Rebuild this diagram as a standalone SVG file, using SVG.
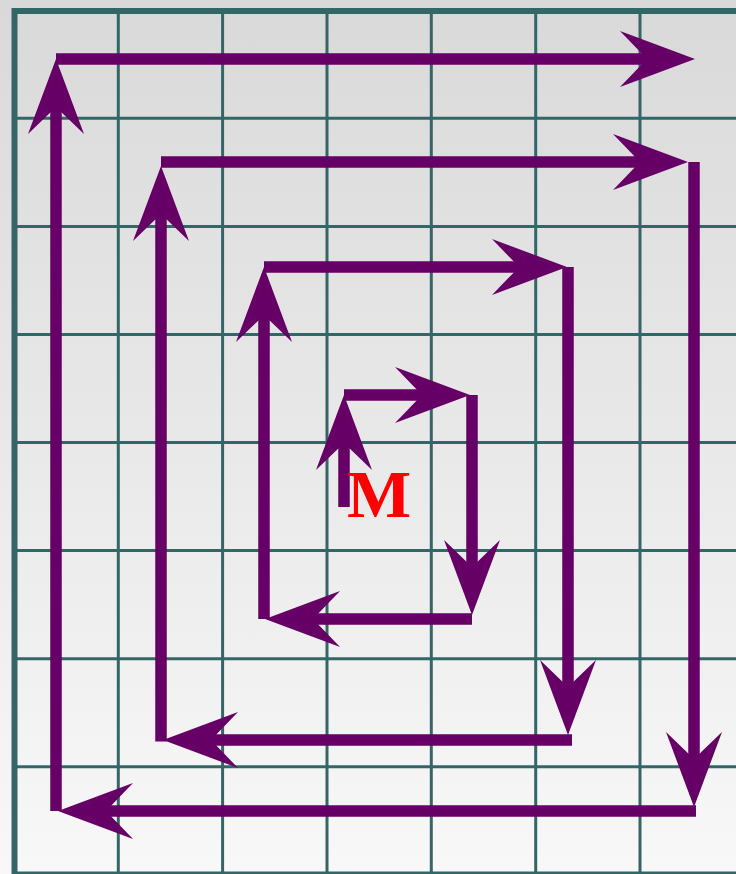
<svg xmlns="http://www.w3.org/2000/svg" width="736" height="874" viewBox="0 0 736 874">
  <defs>
    <linearGradient id="bg" x1="0" y1="0" x2="0" y2="1">
      <stop offset="0" stop-color="#d9d9d9"/>
      <stop offset="1" stop-color="#f8f8f8"/>
    </linearGradient>
    <marker id="ah" markerUnits="userSpaceOnUse" orient="auto" refX="0" refY="0" markerWidth="80" markerHeight="60" overflow="visible">
      <polygon points="48,0 -27,-28 0,0 -27,28" fill="#660066"/>
    </marker>
    <style>
      .grid line { stroke: #336666; stroke-width: 3; }
      .border { fill: none; stroke: #336666; stroke-width: 6; }
      .conn line { stroke: #660066; stroke-width: 11.5; stroke-linecap: butt; marker-end: url(#ah); }
      .lbl { font-family: "Liberation Serif", "Times New Roman", serif; font-weight: bold; font-size: 68px; fill: #ff0000; }
    </style>
  </defs>
  <rect x="0" y="0" width="736" height="874" fill="url(#bg)"/>
  <g id="grid" class="grid">
    <line x1="118.3" y1="11" x2="118.3" y2="874"/>
    <line x1="222.6" y1="11" x2="222.6" y2="874"/>
    <line x1="327" y1="11" x2="327" y2="874"/>
    <line x1="431.3" y1="11" x2="431.3" y2="874"/>
    <line x1="535.7" y1="11" x2="535.7" y2="874"/>
    <line x1="640" y1="11" x2="640" y2="874"/>
    <line x1="14" y1="118.3" x2="736" y2="118.3"/>
    <line x1="14" y1="226.4" x2="736" y2="226.4"/>
    <line x1="14" y1="334.5" x2="736" y2="334.5"/>
    <line x1="14" y1="442.6" x2="736" y2="442.6"/>
    <line x1="14" y1="550.6" x2="736" y2="550.6"/>
    <line x1="14" y1="658.7" x2="736" y2="658.7"/>
    <line x1="14" y1="766.8" x2="736" y2="766.8"/>
    <rect class="border" x="14.5" y="11" width="800" height="863.5"/>
  </g>
  <g id="connectors" class="conn">
    <line x1="344" y1="507" x2="344" y2="443"/>
    <line x1="344" y1="395" x2="422" y2="395"/>
    <line x1="472" y1="395" x2="472" y2="567"/>
    <line x1="472" y1="619" x2="313" y2="619"/>
    <line x1="264" y1="619" x2="264" y2="315"/>
    <line x1="264" y1="267" x2="519" y2="267"/>
    <line x1="568" y1="267" x2="568" y2="687"/>
    <line x1="572" y1="740" x2="211" y2="740"/>
    <line x1="161" y1="741.5" x2="161" y2="214"/>
    <line x1="161" y1="162" x2="640" y2="162"/>
    <line x1="694" y1="162" x2="694" y2="759"/>
    <line x1="696" y1="811" x2="106" y2="811"/>
    <line x1="56" y1="811" x2="56" y2="107"/>
    <line x1="56" y1="59" x2="647" y2="59"/>
  </g>
  <g id="label-M">
    <text class="lbl" x="347" y="517">M</text>
  </g>
</svg>
